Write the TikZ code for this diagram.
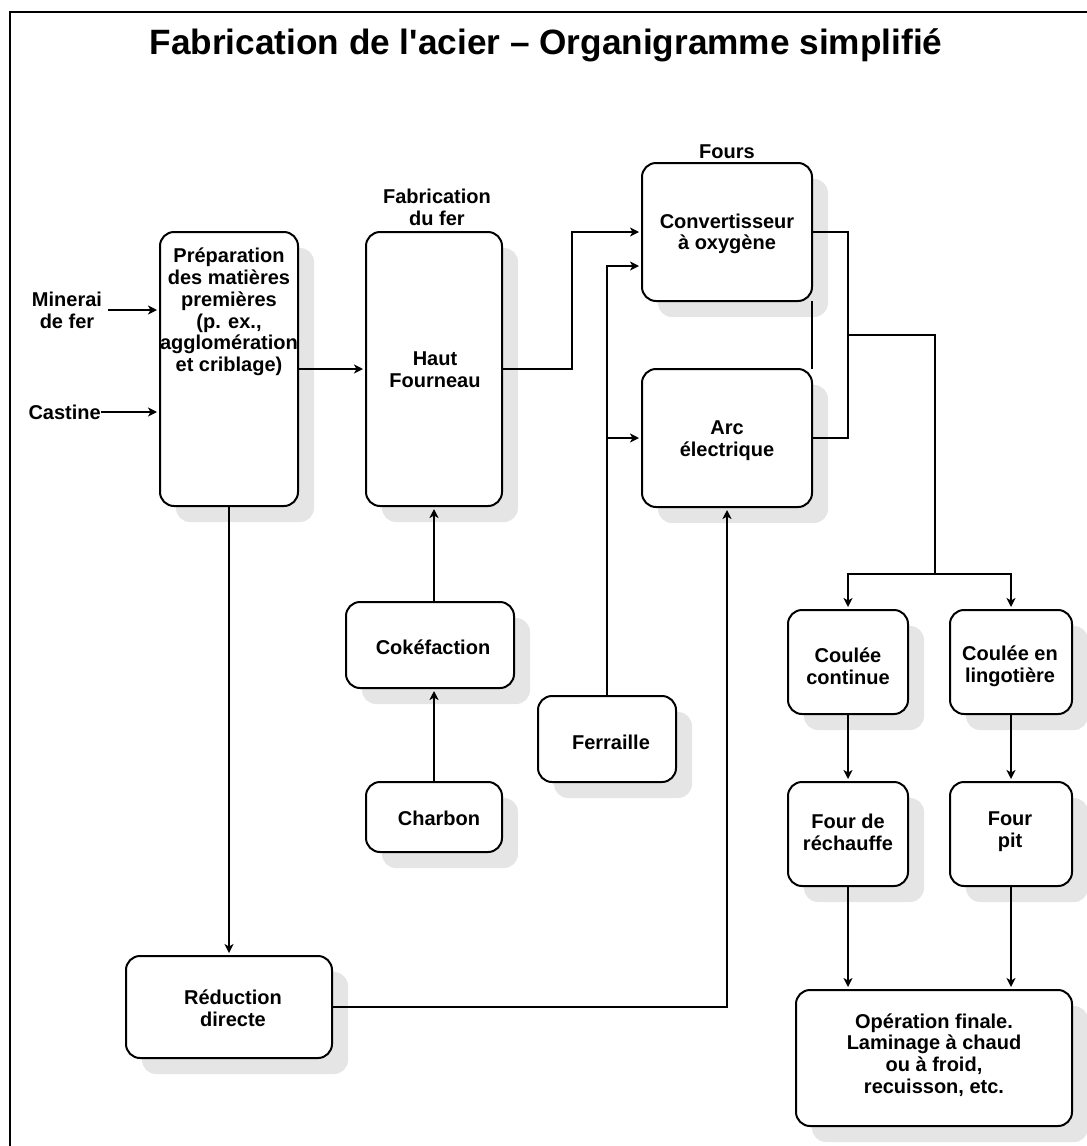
\documentclass[tikz,border=0pt]{standalone}
\usepackage{fontspec}
\setmainfont{Liberation Sans}
\usetikzlibrary{arrows.meta}
\newcommand\mkbox[5]{%
  \fill[shad] (#2+16,#3+16) rectangle (#4+16,#5+16);
  \node[box, minimum width={(#4)-(#2)}, minimum height={(#5)-(#3)}] (#1) at ({((#2)+(#4))/2},{((#3)+(#5))/2}) {};
}
\begin{document}
\begin{tikzpicture}[x=1pt,y=-1pt,
  box/.style={draw, line width=2pt, rounded corners=14pt, fill=white, inner sep=0pt, outer sep=0pt},
  shad/.style={fill=black!10, rounded corners=14pt},
  lbl/.style={font=\fontsize{20}{21.7}\selectfont\bfseries, align=center, inner sep=0pt},
  conn/.style={line width=2pt},
  arr/.style={conn, -{Stealth[length=9pt,width=9pt,inset=2.5pt]}, shorten >=3pt},
]
\useasboundingbox (0,0) rectangle (1087,1146);
% frame
\draw[line width=2.4pt] (10,1146) -- (10,12) -- (1087,12);
% title
\node[font=\fontsize{35.2}{40}\selectfont\bfseries, anchor=base, inner sep=0pt] (title) at (546,54) {Fabrication de l\textquotesingle acier – Organigramme simplifié};
% boxes
\mkbox{prep}{160}{232}{298}{506}
\mkbox{hf}{366}{232}{502}{506}
\mkbox{conv}{642}{163}{812}{301}
\mkbox{arc}{642}{369}{812}{507}
\mkbox{coke}{346}{602}{514}{688}
\mkbox{charbon}{366}{782}{502}{852}
\mkbox{ferraille}{538}{696}{676}{782}
\mkbox{cc}{788}{610}{908}{714}
\mkbox{cl}{950}{610}{1072}{714}
\mkbox{fr}{788}{782}{908}{886}
\mkbox{fp}{950}{782}{1072}{886}
\mkbox{red}{126}{956}{332}{1058}
\mkbox{op}{796}{990}{1072}{1126}
% texts
\node[lbl] (prep-t) at (229,312) {Préparation\\des matières\\premières\\(p. ex.,\\agglomération\\et criblage)};
\node[lbl] (hf-t) at (435,370) {Haut\\Fourneau};
\node[lbl] (conv-t) at (727,234) {Convertisseur\\à oxygène};
\node[lbl] (arc-t) at (727,441) {Arc\\électrique};
\node[lbl] (coke-t) at (433,647) {Cokéfaction};
\node[lbl] (charbon-t) at (439,818) {Charbon};
\node[lbl] (ferraille-t) at (611,742) {Ferraille};
\node[lbl] (cc-t) at (848,666) {Coulée\\continue};
\node[lbl] (cl-t) at (1010,666) {Coulée en\\lingotière};
\node[lbl] (fr-t) at (848,832) {Four de\\réchauffe};
\node[lbl] (fp-t) at (1010,832) {Four\\pit};
\node[lbl] (red-t) at (233,1008) {Réduction\\directe};
\node[lbl] (op-t) at (934,1055) {Opération finale.\\Laminage à chaud\\ou à froid,\\recuisson, etc.};
\node[lbl] (fabfer) at (437,207) {Fabrication\\du fer};
\node[lbl] (fours) at (727,152) {Fours};
\node[lbl] (minerai) at (67,310) {Minerai\\de fer};
\node[lbl, anchor=east] (castine) at (101,412) {Castine};
% connectors
\coordinate (m0) at (108,310);
\draw[arr] (m0) -- (prep.west |- m0);
\draw[arr] (castine.east) -- (prep.west |- castine.east);
\draw[arr] (prep.east) -- (hf.west);
\draw[arr] (hf.east) -- ++(70,0) |- (conv.west);
\coordinate (fc) at (642,266);
\draw[arr] (ferraille.north -| 607,0) |- (fc);
\draw[arr] (607,438) -- (arc.west);
\coordinate (jx) at (848,335);
\draw[conn] (conv.east) -| (jx) |- (arc.east);
\draw[conn] (conv.south east) -- (arc.north east);
\coordinate (sp) at (935,574);
\draw[conn] (jx) -| (sp);
\draw[arr] (sp) -| (cc.north);
\draw[arr] (sp) -| (cl.north);
\draw[arr] (cc.south) -- (fr.north);
\draw[arr] (cl.south) -- (fp.north);
\draw[arr] (fr.south) -- (op.north -| fr.south);
\draw[arr] (fp.south) -- (op.north -| fp.south);
\draw[arr] (prep.south) -- (red.north);
\draw[arr] (red.east) -| (arc.south);
\draw[arr] (hf.south |- coke.north) -- (hf.south);
\draw[arr] (charbon.north) -- (charbon.north |- coke.south);
\end{tikzpicture}
\end{document}
